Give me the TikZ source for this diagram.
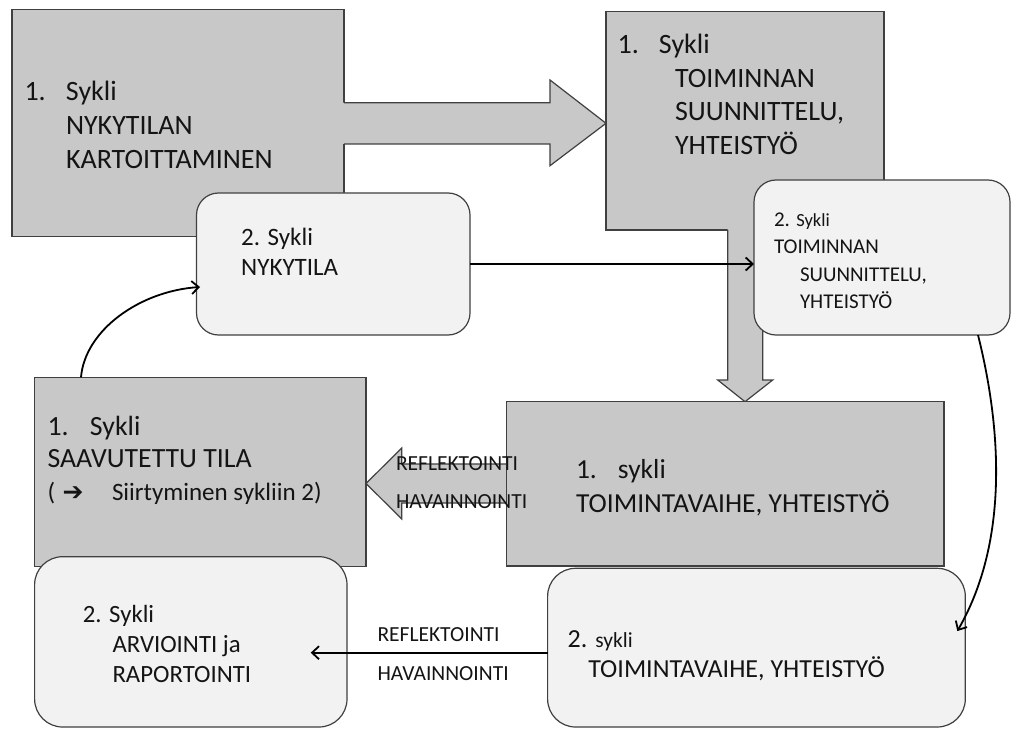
\documentclass[tikz,border=0pt]{standalone}
\usepackage{fontspec}
\setmainfont{Carlito}
\newfontfamily\symfont{DejaVu Sans}
\usetikzlibrary{arrows.meta,calc}
\definecolor{boxgray}{HTML}{C8C8C8}
\definecolor{boxlight}{HTML}{F2F2F2}
\definecolor{edge}{HTML}{404040}
\definecolor{ink}{HTML}{141414}
\tikzset{
  graybox/.style={draw=edge, fill=boxgray, line width=1.2pt, inner sep=0pt, outer sep=0pt},
  lightbox/.style={draw=edge, fill=boxlight, line width=1.2pt, inner sep=0pt, outer sep=0pt},
  blockedge/.style={draw=edge, line width=1.2pt, line join=miter},
  conn/.style={draw=black, line width=1.8pt, -{Straight Barb[length=7pt,width=13pt]}},
  txt/.style={anchor=base west, inner sep=0pt, outer sep=0pt, align=flush left, text=ink, text width=400pt},
  lbl/.style={anchor=base west, inner sep=0pt, outer sep=0pt, text=ink, font=\fontsize{21.5}{24}\selectfont}
}
\begin{document}
\begin{tikzpicture}[x=1pt,y=-1pt]
\useasboundingbox (0,0) rectangle (1011,735);
\fill[white] (0,0) rectangle (1011,735);
% Box A
\node[graybox, minimum width=332pt, minimum height=227pt] (A) at (178,123) {};
\fill[boxgray] (330,102.7) -- (550,102.7) -- (550,80) -- (606,123.3) -- (550,165.7) -- (550,144) -- (330,144) -- cycle;
\draw[blockedge] (344,102.7) -- (550,102.7) -- (550,80) -- (606,123.3) -- (550,165.7) -- (550,144) -- (344,144);
% Box B
\node[graybox, minimum width=278pt, minimum height=218.3pt] (B) at (745,120.85) {};
\fill[boxgray] (727.7,222) -- (727.7,380) -- (717.7,380) -- (745,401.7) -- (772.7,380) -- (762.7,380) -- (762.7,222) -- cycle;
\draw[blockedge] (727.7,230) -- (727.7,380) -- (717.7,380) -- (745,401.7) -- (772.7,380) -- (762.7,380) -- (762.7,230);
% light boxes top
\node[lightbox, rounded corners=22pt, minimum width=273.5pt, minimum height=142pt] (NYK) at (333.25,264) {};
\node[lightbox, rounded corners=22pt, minimum width=256pt, minimum height=155pt] (C2) at (882,257.5) {};
% Box D
\node[graybox, minimum width=331.4pt, minimum height=189.4pt] (D) at (200.3,472) {};
% left block arrow
\fill[boxgray] (520,464) -- (401.8,464) -- (401.8,448) -- (366,483.5) -- (401.8,519) -- (401.8,503) -- (520,503) -- cycle;
\draw[blockedge] (520,464) -- (401.8,464) -- (401.8,448) -- (366,483.5) -- (401.8,519) -- (401.8,503) -- (520,503);
% Box E
\node[graybox, minimum width=437.4pt, minimum height=164.3pt] (E) at (725.3,483.85) {};
% bottom light boxes
\node[lightbox, rounded corners=28pt, minimum width=312.4pt, minimum height=170.3pt] (F) at (190.8,641.85) {};
\node[lightbox, rounded corners=28pt, minimum width=417.7pt, minimum height=158.7pt] (G) at (756.45,647.65) {};
% texts
\node[txt, font=\fontsize{28}{33.8}\selectfont] (tA) at (24.5,101) {\makebox[41.5pt][l]{1.}Sykli\\\hspace*{41.5pt}NYKYTILAN\\\hspace*{41.5pt}KARTOITTAMINEN};
\node[txt, font=\fontsize{28}{33.6}\selectfont] (tB) at (617.7,53.5) {\makebox[41.3pt][l]{1.}Sykli\\\hspace*{57.3pt}TOIMINNAN\\\hspace*{57.3pt}SUUNNITTELU,\\\hspace*{57.3pt}YHTEISTYÖ};
\node[txt, font=\fontsize{21}{27.2}\selectfont] (tC) at (774,226.7) {2. {\fontsize{18.5}{20}\selectfont Sykli}\\TOIMINNAN\\\hspace*{26pt}SUUNNITTELU,\\\hspace*{26pt}YHTEISTYÖ};
\node[txt, font=\fontsize{25}{30}\selectfont] (tN) at (241.2,246) {2. Sykli\\NYKYTILA};
\node[txt, font=\fontsize{27.8}{32.6}\selectfont] (tD) at (47.5,435) {\makebox[42.5pt][l]{1.}Sykli\\SAAVUTETTU TILA\\{\fontsize{25}{32.6}\selectfont\makebox[15pt][l]{(}\makebox[49.5pt][l]{\symfont ➔}Siirtyminen sykliin 2)}};
\node[txt, font=\fontsize{27.5}{34.4}\selectfont] (tE) at (576,478.3) {\makebox[42pt][l]{1.}sykli\\TOIMINTAVAIHE, YHTEISTYÖ};
\node[txt, font=\fontsize{24.8}{29.8}\selectfont] (tF) at (82.9,622.7) {2. Sykli\\\hspace*{29.6pt}ARVIOINTI ja\\\hspace*{29.6pt}RAPORTOINTI};
\node[txt, font=\fontsize{26}{29.4}\selectfont] (tG) at (567.7,647.8) {2. {\fontsize{21.5}{24}\selectfont sykli}\\\hspace*{20.6pt}TOIMINTAVAIHE, YHTEISTYÖ};
% arrow labels
\node[lbl] (r1) at (396,470) {REFLEKTOINTI};
\node[lbl] (h1) at (396,508.3) {HAVAINNOINTI};
\node[lbl] (r2) at (377.5,641.7) {REFLEKTOINTI};
\node[lbl] (h2) at (377.5,680) {HAVAINNOINTI};
% connectors
\draw[conn] (NYK.east) -- (NYK.east -| C2.west);
\coordinate (Dstart) at ($(D.north west)+(46.4,0)$);
\coordinate (Nend) at ($(NYK.west)+(3.5,23)$);
\draw[conn] (Dstart) .. controls (85,330) and (140,291) .. (Nend);
\coordinate (C2out) at ($(C2.south east)+(-32,0)$);
\coordinate (Gin) at ($(G.east)+(-8,-16.6)$);
\draw[conn] (C2out) .. controls (1003,435) and (1007,545) .. (Gin);
\coordinate (Ftip) at ($(F.east)+(-36.3,10.85)$);
\draw[conn] (G.west |- Ftip) -- (Ftip);
\end{tikzpicture}
\end{document}
